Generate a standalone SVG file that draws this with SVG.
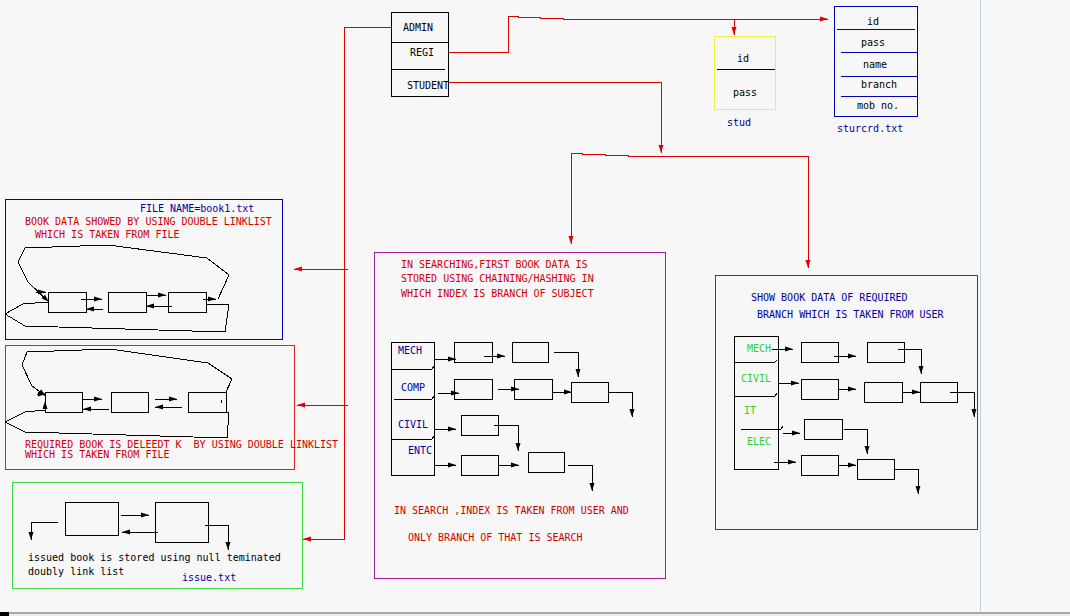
<svg xmlns="http://www.w3.org/2000/svg" width="1070" height="616" viewBox="0 0 1070 616">
<defs>
<style>
text{font-family:"DejaVu Sans Mono","Liberation Mono",monospace;font-size:10px;fill:#000;white-space:pre}
.r{fill:#d00000}.b{fill:#0000a0}.g{fill:#30d030}
.ln{fill:none;stroke:#000;stroke-width:1;shape-rendering:crispEdges}
.rl{fill:none;stroke:#e00000;stroke-width:1;shape-rendering:crispEdges}
.bx{fill:none;stroke:#000;stroke-width:1;shape-rendering:crispEdges}
.ab{marker-end:url(#ak)}
.ar{marker-end:url(#ar)}
</style>
<marker id="ak" markerUnits="userSpaceOnUse" markerWidth="8" markerHeight="6" refX="8" refY="3" orient="auto"><path d="M0,0.5 L8,3 L0,5.5 z" fill="#000"/></marker>
<marker id="ar" markerUnits="userSpaceOnUse" markerWidth="8" markerHeight="6" refX="8" refY="3" orient="auto"><path d="M0,0.5 L8,3 L0,5.5 z" fill="#e00000"/></marker>
</defs>
<rect x="0" y="0" width="1070" height="616" fill="#f7f7f7"/>
<line x1="980.5" y1="0" x2="980.5" y2="613" stroke="#b8d4e4" stroke-width="1"/>
<rect x="0" y="612" width="1070" height="2" fill="#a8a8a8"/>
<rect x="0" y="614" width="1070" height="2" fill="#ececec"/>
<rect x="0" y="612" width="9" height="4" fill="#000"/>

<g id="connectors">
<path class="rl ar" d="M391,27 H344 V539 H303"/>
<path class="rl ar" d="M348,269 H294"/>
<path class="rl ar" d="M348,405 H297"/>
<path class="rl ar" d="M448,52 H508 V16 H518 V17 H540 V18 H563 V19 H828"/>
<path class="rl ar" d="M734,19 V35"/>
<path class="rl ar" d="M448,82 H661 V153"/>
<path class="rl" d="M571,153 H582 V154 H605 V155 H628 V156 H650 V156 H808"/>
<path class="rl ar" d="M571,153 V244"/>
<path class="rl ar" d="M808,156 V268"/>
</g>

<g id="admin">
<rect class="bx" x="391" y="12" width="57" height="84"/>
<path class="ln" d="M391,42 H448 M391,69 H445"/>
<text x="403" y="31">ADMIN</text>
<text x="410" y="56">REGI</text>
<text x="407" y="89">STUDENT</text>
</g>

<g id="stud">
<rect x="714" y="36" width="61" height="73" fill="none" stroke="#f0f040" stroke-width="1" shape-rendering="crispEdges"/>
<path class="ln" d="M717,69 H775"/>
<text x="737" y="62">id</text>
<text x="733" y="96">pass</text>
<text class="b" x="727" y="126">stud</text>
</g>

<g id="sturcrd">
<rect x="834" y="6" width="83" height="110" fill="none" stroke="#0000b0" stroke-width="1" shape-rendering="crispEdges"/>
<path d="M837,29 H915 M841,52 H917 M841,76 H917 M841,96 H917" fill="none" stroke="#0000b0" shape-rendering="crispEdges"/>
<text x="867" y="25">id</text>
<text x="861" y="46">pass</text>
<text x="863" y="68">name</text>
<text x="861" y="88">branch</text>
<text x="857" y="109">mob no.</text>
<text class="b" x="837" y="132">sturcrd.txt</text>
</g>

<g id="book1">
<rect x="5" y="199" width="277" height="140" fill="none" stroke="#0000b0" shape-rendering="crispEdges"/>
<text class="b" x="140" y="212">FILE NAME=book1.txt</text>
<text class="r" x="25" y="225">BOOK DATA SHOWED BY USING DOUBLE LINKLIST</text>
<text class="r" x="35" y="238">WHICH IS TAKEN FROM FILE</text>
<rect class="bx" x="48" y="292" width="38" height="20"/>
<rect class="bx" x="108" y="292" width="38" height="20"/>
<rect class="bx" x="168" y="292" width="38" height="20"/>
<path class="ln ab" d="M81,299 H102"/>
<path class="ln ab" d="M103,309 H86"/>
<path class="ln ab" d="M146,295 H166"/>
<path class="ln ab" d="M172,306 H146"/>
<path class="ln ab" d="M203,299 H216"/>
<path class="ln ab" d="M218,299 L229,275 L207,258 L108,245 L25,248 L18,262 L28,282 L49,302"/>
<path class="ln ab" d="M36,292 H46"/>
<path class="ln" d="M207,304 H229 L225,332 L25,326 L5,314 L23,304 L48,302"/>
</g>

<g id="delete">
<rect x="5" y="345" width="289" height="124" fill="none" stroke="#e02020" shape-rendering="crispEdges"/>
<rect class="bx" x="45" y="392" width="37" height="20"/>
<rect class="bx" x="111" y="392" width="37" height="20"/>
<rect class="bx" x="188" y="392" width="38" height="20"/>
<path class="ln ab" d="M82,399 H102"/>
<path class="ln ab" d="M109,409 H83"/>
<path class="ln ab" d="M155,399 H177"/>
<path class="ln ab" d="M182,407 H155"/>
<path class="ln" d="M222,400 L221,403"/>
<path class="ln ab" d="M226,392 L232,379 L208,363 L110,349 L27,352 L22,365 L32,386 L46,396"/>
<path class="ln ab" d="M37,394 H46"/>
<path class="ln ab" d="M45,410 V401"/>
<path class="ln" d="M226,412 H229 L227,438 L25,432 L5,422 L25,412 L45,410"/>
<text class="r" x="25" y="448" xml:space="preserve">REQUIRED BOOK IS DELEEDT K  BY USING DOUBLE LINKLIST</text>
<text class="r" x="25" y="458">WHICH IS TAKEN FROM FILE</text>
</g>

<g id="issue">
<rect x="12" y="482" width="290" height="106" fill="none" stroke="#40d840" shape-rendering="crispEdges"/>
<rect class="bx" x="65" y="502" width="53" height="33"/>
<rect class="bx" x="155" y="502" width="53" height="40"/>
<path class="ln ab" d="M121,515 H149"/>
<path class="ln ab" d="M158,532 H122"/>
<path class="ln ab" d="M58,522 H31 V540"/>
<path class="ln ab" d="M205,525 H228 V550"/>
<text x="28" y="561">issued book is stored using null teminated</text>
<text x="28" y="575">doubly link list</text>
<text class="b" x="182" y="581">issue.txt</text>
</g>

<g id="search">
<rect x="374" y="252" width="291" height="326" fill="none" stroke="#a020a0" shape-rendering="crispEdges"/>
<text class="r" x="401" y="268">IN SEARCHING,FIRST BOOK DATA IS</text>
<text class="r" x="401" y="282">STORED USING CHAINING/HASHING IN</text>
<text class="r" x="401" y="297">WHICH INDEX IS BRANCH OF SUBJECT</text>
<rect class="bx" x="391" y="342" width="43" height="133"/>
<path class="ln" d="M391,369 H432 L434,366 M394,399 H432 L434,396 M391,439 H432 L434,436"/>
<text class="b" x="398" y="354">MECH</text>
<text class="b" x="401" y="391">COMP</text>
<text class="b" x="398" y="428">CIVIL</text>
<text class="b" x="408" y="454">ENTC</text>
<rect class="bx" x="454" y="342" width="38" height="20"/>
<rect class="bx" x="512" y="342" width="36" height="20"/>
<path class="ln ab" d="M434,359 H456"/>
<path class="ln ab" d="M484,356 H505"/>
<path class="ln ab" d="M554,352 H578 V377"/>
<rect class="bx" x="454" y="379" width="38" height="20"/>
<rect class="bx" x="514" y="379" width="38" height="20"/>
<rect class="bx" x="571" y="382" width="37" height="20"/>
<path class="ln ab" d="M438,393 H459"/>
<path class="ln ab" d="M498,389 H519"/>
<path class="ln ab" d="M552,392 H572"/>
<path class="ln ab" d="M608,392 H632 V417"/>
<rect class="bx" x="461" y="415" width="37" height="20"/>
<path class="ln ab" d="M434,429 H456"/>
<path class="ln ab" d="M494,425 H518 V451"/>
<rect class="bx" x="461" y="455" width="37" height="20"/>
<rect class="bx" x="528" y="452" width="36" height="20"/>
<path class="ln ab" d="M434,465 H456"/>
<path class="ln ab" d="M498,465 H519"/>
<path class="ln ab" d="M568,465 H592 V491"/>
<text class="r" x="394" y="514">IN SEARCH ,INDEX IS TAKEN FROM USER AND</text>
<text class="r" x="408" y="541">ONLY BRANCH OF THAT IS SEARCH</text>
</g>

<g id="show">
<rect x="715" y="275" width="262" height="254" fill="none" stroke="#e00000" shape-rendering="crispEdges"/>
<text class="b" x="751" y="301">SHOW BOOK DATA OF REQUIRED</text>
<text class="b" x="757" y="318">BRANCH WHICH IS TAKEN FROM USER</text>
<rect class="bx" x="734" y="336" width="44" height="133"/>
<path class="ln" d="M734,362 H775 L777,360 M734,396 H775 L777,393 M741,429 H781 L783,426"/>
<text class="g" x="747" y="352">MECH</text>
<text class="g" x="741" y="382">CIVIL</text>
<text class="g" x="744" y="414">IT</text>
<text class="g" x="747" y="445">ELEC</text>
<rect class="bx" x="801" y="342" width="37" height="20"/>
<rect class="bx" x="867" y="342" width="37" height="20"/>
<path class="ln ab" d="M772,349 H793"/>
<path class="ln ab" d="M834,356 H856"/>
<path class="ln ab" d="M898,349 H921 V374"/>
<rect class="bx" x="801" y="379" width="37" height="20"/>
<rect class="bx" x="864" y="382" width="38" height="20"/>
<rect class="bx" x="920" y="382" width="37" height="20"/>
<path class="ln ab" d="M778,383 H799"/>
<path class="ln ab" d="M838,389 H856"/>
<path class="ln ab" d="M902,392 H920"/>
<path class="ln ab" d="M950,392 H974 V417"/>
<rect class="bx" x="804" y="419" width="38" height="20"/>
<path class="ln ab" d="M783,433 H800"/>
<path class="ln ab" d="M844,429 H867 V454"/>
<rect class="bx" x="801" y="455" width="37" height="20"/>
<rect class="bx" x="857" y="459" width="37" height="20"/>
<path class="ln ab" d="M774,462 H796"/>
<path class="ln ab" d="M838,465 H856"/>
<path class="ln ab" d="M894,469 H918 V494"/>
</g>
</svg>
